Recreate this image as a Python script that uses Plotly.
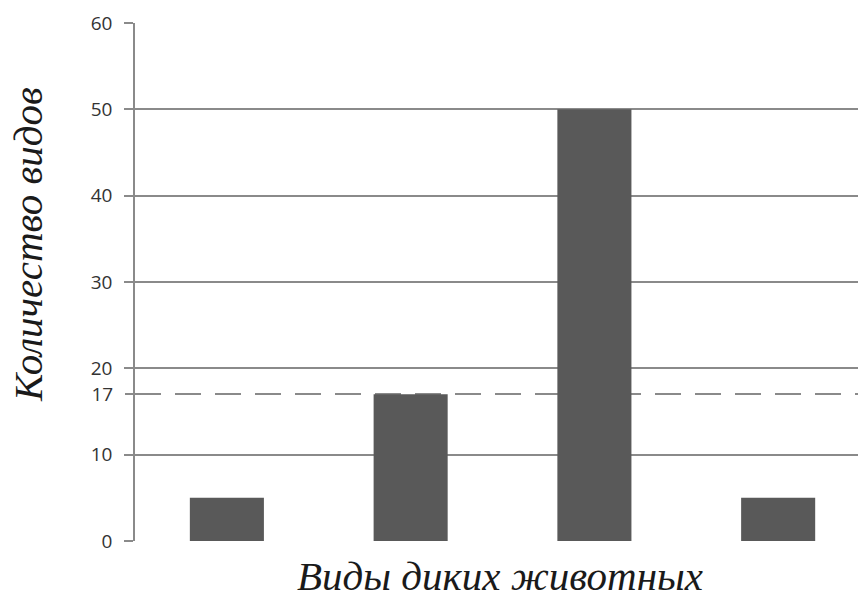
import plotly.graph_objects as go

categories = ["A", "B", "C", "D"]
values = [5, 17, 50, 5]
grid_ticks = [0, 10, 20, 30, 40, 50, 60]
ref_value = 17
y_title = "Количество видов"
x_title = "Виды диких животных"

# page offset of 8px (body margin) is accounted for in figure size and margins
W, H = 858, 585
ML, MR, MT, MB = 127, 0, 15, 52
PW = W - ML - MR
PH = H - MT - MB

fig = go.Figure()
fig.add_trace(go.Bar(x=categories, y=values, marker=dict(color="#595959", line=dict(width=0)),
                     width=0.403, showlegend=False, hoverinfo="skip"))
fig.add_trace(go.Scatter(x=[categories[0]], y=[ref_value], yaxis="y2", mode="markers",
                         marker=dict(opacity=0), showlegend=False, hoverinfo="skip"))

tickfont = dict(family="Open Sans", size=19, color="#333333")
fig.update_layout(
    width=W, height=H,
    margin=dict(l=ML, r=MR, t=MT, b=MB),
    paper_bgcolor="white", plot_bgcolor="white",
    xaxis=dict(type="category", range=[-0.5, 3.478], showticklabels=False, ticks="",
               showgrid=False, showline=False, zeroline=False),
    yaxis=dict(range=[0, 60], tickvals=grid_ticks, showgrid=True, gridcolor="#8a8a8a", gridwidth=1.5,
               showline=True, linecolor="#8a8a8a", linewidth=1.5, ticks="outside", ticklen=9,
               tickcolor="#8a8a8a", tickwidth=1.5, tickfont=tickfont, zeroline=False,
               ticklabelstandoff=8),
    yaxis2=dict(range=[0, 60], overlaying="y", side="left", tickvals=[ref_value], showgrid=True,
                gridcolor="#8a8a8a", gridwidth=1.5, griddash="26px,14px", ticks="outside", ticklen=9,
                tickcolor="#8a8a8a", tickwidth=1.5, tickfont=tickfont, zeroline=False,
                showline=False, ticklabelstandoff=8),
    annotations=[
        dict(text=y_title, xref="paper", yref="paper", x=(28 - 8 - ML) / PW, y=1 - (245 - 8 - MT) / PH,
             xanchor="center", yanchor="middle", textangle=-90, showarrow=False,
             font=dict(family="Liberation Serif", size=41, color="#1a1a1a", style="italic")),
        dict(text=x_title, xref="paper", yref="paper", x=(500 - 8 - ML) / PW, y=-(576 - 541) / PH,
             xanchor="center", yanchor="middle", showarrow=False,
             font=dict(family="Liberation Serif", size=41, color="#1a1a1a", style="italic")),
    ],
)
fig.write_html("out.html")
